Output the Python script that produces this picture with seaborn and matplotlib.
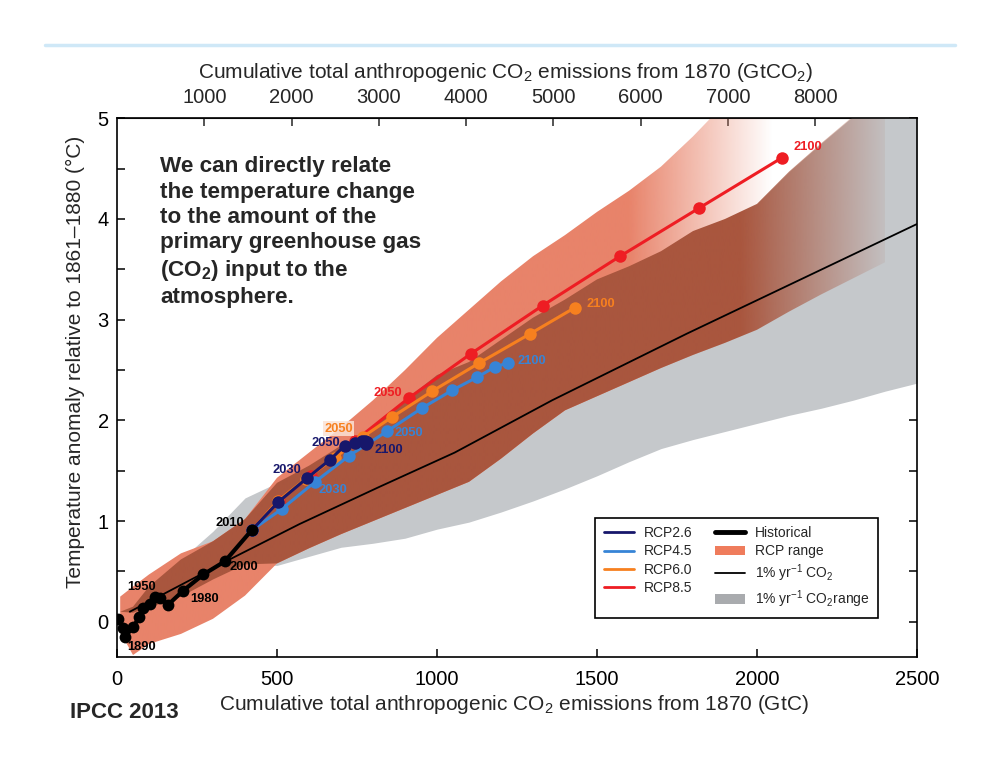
import numpy as np
import matplotlib
matplotlib.use("Agg")
import matplotlib.pyplot as plt
import seaborn as sns
from matplotlib.colors import to_rgb
from matplotlib.path import Path
from matplotlib.lines import Line2D
from matplotlib.patches import Patch

# ---- data (GtC, degC) ----
hist_x = [4, 20, 25, 51, 70, 82, 103, 119, 134, 160, 207, 270, 337, 421]
hist_y = [0.03, -0.06, -0.15, -0.05, 0.05, 0.14, 0.18, 0.25, 0.24, 0.17, 0.31, 0.47, 0.60, 0.91]

# decades 2010 ... 2100
rcp26_x = [421, 504, 595, 666, 712, 745, 765, 776, 780, 778]
rcp26_y = [0.91, 1.19, 1.43, 1.61, 1.75, 1.78, 1.80, 1.80, 1.79, 1.77]
rcp45_x = [421, 515, 619, 726, 843, 952, 1048, 1126, 1181, 1221]
rcp45_y = [0.91, 1.12, 1.39, 1.65, 1.89, 2.12, 2.30, 2.43, 2.53, 2.57]
rcp60_x = [421, 503, 590, 680, 770, 858, 985, 1132, 1291, 1431]
rcp60_y = [0.91, 1.20, 1.42, 1.63, 1.84, 2.03, 2.29, 2.57, 2.86, 3.12]
rcp85_x = [421, 505, 605, 745, 911, 1105, 1330, 1572, 1820, 2079]
rcp85_y = [0.91, 1.20, 1.45, 1.80, 2.22, 2.66, 3.14, 3.63, 4.11, 4.61]

onepct_x = [40, 340, 570, 820, 1055, 1360, 1780, 2500]
onepct_y = [0.10, 0.60, 0.97, 1.34, 1.68, 2.20, 2.86, 3.95]

nan = np.nan
band_x = [10, 50, 100, 200, 300, 400, 500, 600, 700, 800, 900, 1000, 1100, 1200,
          1300, 1400, 1500, 1600, 1700, 1800, 1900, 2000, 2100, 2200, 2300, 2400, 2500]
rcp_lo = [-0.10, -0.33, -0.22, -0.12, 0.03, 0.26, 0.58, 0.73, 0.87, 1.00, 1.13, 1.26, 1.39, 1.62,
          1.87, 2.10, 2.24, 2.38, 2.52, 2.65, 2.77, 2.90, 3.08, 3.25, 3.41, 3.57, nan]
rcp_hi = [0.25, 0.35, 0.47, 0.68, 0.80, 1.02, 1.43, 1.68, 1.93, 2.20, 2.50, 2.82, 3.10, 3.38,
          3.63, 3.84, 4.07, 4.28, 4.52, 4.82, 5.15, 5.50, 5.85, 6.20, 6.55, 6.90, nan]
gray_lo = [0.10, 0.09, 0.14, 0.25, 0.42, 0.57, 0.56, 0.65, 0.74, 0.78, 0.83, 0.92, 0.99, 1.09,
           1.20, 1.32, 1.45, 1.59, 1.72, 1.81, 1.89, 1.97, 2.05, 2.12, 2.20, 2.29, 2.37]
gray_hi = [0.10, 0.15, 0.35, 0.62, 0.90, 1.23, 1.38, 1.55, 1.75, 1.94, 2.20, 2.45, 2.58, 2.80,
           3.02, 3.20, 3.40, 3.53, 3.68, 3.88, 4.00, 4.15, 4.47, 4.75, 5.02, 5.30, 5.55]

top_ticks = [1000, 2000, 3000, 4000, 5000, 6000, 7000, 8000, 9000]
top_labels = ["1000", "2000", "3000", "4000", "5000", "6000", "7000", "8000", ""]

NAVY, BLUE, ORANGE, RED = "#17176b", "#3784d6", "#f7801f", "#ee1d23"
SALMON, DARK, GRAY = "#e8836a", "#a9563e", "#c5c8cb"

sns.set_style("ticks")
plt.rcParams["font.family"] = ["Liberation Sans", "DejaVu Sans"]
plt.rcParams["mathtext.fontset"] = "custom"
plt.rcParams["mathtext.rm"] = "Liberation Sans"
plt.rcParams["mathtext.bf"] = "Liberation Sans:bold"

fig = plt.figure(figsize=(10, 7.73), dpi=100)
ax = fig.add_axes([0.117, 0.150, 0.800, 0.697])

# ---- shaded ranges ----
bx = np.array(band_x)
rlo, rhi = np.array(rcp_lo), np.array(rcp_hi)
glo, ghi = np.array(gray_lo), np.array(gray_hi)

ax.fill_between(bx, glo, ghi, color=GRAY, lw=0, zorder=1)


def faded_band(lo, hi, color, fade0, fade1, z):
    valid = ~np.isnan(lo) & ~np.isnan(hi) & (hi > lo)
    band = ax.fill_between(bx, lo, hi, where=valid, interpolate=True,
                           facecolor="none", edgecolor="none")
    clip = Path.make_compound_path(*band.get_paths())
    xs = np.linspace(0, 2500, 501)
    rgba = np.zeros((1, xs.size, 4))
    rgba[..., :3] = to_rgb(color)
    rgba[0, :, 3] = np.clip((fade1 - xs) / (fade1 - fade0), 0, 1)
    im = ax.imshow(rgba, extent=(0, 2500, -1, 7), origin="lower", aspect="auto",
                   interpolation="bilinear", zorder=z)
    im.set_clip_path(clip, transform=ax.transData)


faded_band(rlo, rhi, SALMON, 1600, 2050, 1.2)
faded_band(np.maximum(rlo, glo), np.minimum(rhi, ghi), DARK, 1950, 2440, 1.4)

# ---- lines ----
sns.lineplot(x=onepct_x, y=onepct_y, color="black", lw=1.3, sort=False,
             estimator=None, ax=ax, zorder=2, legend=False)

series = {
    "RCP8.5": (rcp85_x, rcp85_y, RED, 3),
    "RCP6.0": (rcp60_x, rcp60_y, ORANGE, 4),
    "RCP4.5": (rcp45_x, rcp45_y, BLUE, 5),
    "RCP2.6": (rcp26_x, rcp26_y, NAVY, 6),
}
for name, (xs, ys, col, z) in series.items():
    sns.lineplot(x=xs, y=ys, color=col, lw=2.2, marker="o", markersize=9,
                 markeredgewidth=0, sort=False, estimator=None, ax=ax,
                 zorder=z, legend=False)

sns.lineplot(x=hist_x, y=hist_y, color="black", lw=3.0, marker="o", markersize=8.5,
             markeredgewidth=0, sort=False, estimator=None, ax=ax, zorder=7,
             legend=False)

# ---- year labels: (x list, y list, index, text, color, dx px, dy px, ha) ----
year_labels = [
    (rcp85_x, rcp85_y, 9, "2100", RED, 11, 11, "left"),
    (rcp85_x, rcp85_y, 4, "2050", RED, -6, 5, "right"),
    (rcp60_x, rcp60_y, 9, "2100", ORANGE, 12, 4, "left"),
    (rcp45_x, rcp45_y, 9, "2100", BLUE, 10, 2, "left"),
    (rcp45_x, rcp45_y, 4, "2050", BLUE, 8, -2, "left"),
    (rcp45_x, rcp45_y, 2, "2030", BLUE, 3, -8, "left"),
    (rcp26_x, rcp26_y, 9, "2100", NAVY, 9, -6, "left"),
    (rcp26_x, rcp26_y, 4, "2050", NAVY, -5, 3, "right"),
    (rcp26_x, rcp26_y, 2, "2030", NAVY, -6, 8, "right"),
    (hist_x, hist_y, 13, "2010", "black", -8, 7, "right"),
    (hist_x, hist_y, 12, "2000", "black", 5, -6, "left"),
    (hist_x, hist_y, 10, "1980", "black", 7, -8, "left"),
    (hist_x, hist_y, 5, "1950", "black", -16, 21, "left"),
    (hist_x, hist_y, 2, "1890", "black", 2, -10, "left"),
]
for xs, ys, i, txt, col, dx, dy, ha in year_labels:
    ax.annotate(txt, (xs[i], ys[i]), xytext=(dx * 0.72, dy * 0.72),
                textcoords="offset points", ha=ha, va="center", color=col,
                fontsize=9.3, fontweight="bold", zorder=9)
ax.annotate("2050", (rcp60_x[4], rcp60_y[4]), xytext=(-25 * 0.72, 8 * 0.72),
            textcoords="offset points", ha="center", va="center", color=ORANGE,
            fontsize=9.3, fontweight="bold", zorder=9,
            bbox=dict(boxstyle="square,pad=0.1", fc="#fbe3d6", ec="none", alpha=0.85))

# ---- axes ----
ax.set_xlim(0, 2500)
ax.set_ylim(-0.35, 5)
ax.set_xticks(range(0, 2501, 500))
ax.set_yticks(range(0, 6))
ax.set_yticks(np.arange(0.0, 5.01, 0.5), minor=True)
ax.tick_params(which="both", direction="in", length=6, width=1.1, right=True,
               top=False, labelsize=14.5, colors="black")
ax.tick_params(axis="x", pad=9)
ax.tick_params(axis="y", pad=6)
for s in ax.spines.values():
    s.set_linewidth(1.2)
    s.set_color("black")

secax = ax.secondary_xaxis("top", functions=(lambda v: v * 44 / 12, lambda v: v * 12 / 44))
secax.set_xticks(top_ticks, labels=top_labels)
secax.tick_params(direction="in", length=6, width=1.1, labelsize=14.5, pad=8)

ax.set_xlabel("Cumulative total anthropogenic CO$_2$ emissions from 1870 (GtC)", fontsize=15)
ax.xaxis.label.set_va("center")
ax.xaxis.set_label_coords(0.514, 1 - 705 / 773, transform=fig.transFigure)
secax.set_xlabel("Cumulative total anthropogenic CO$_2$ emissions from 1870 (GtCO$_2$)", fontsize=15)
secax.xaxis.label.set_va("center")
secax.xaxis.set_label_coords(0.505, 1 - 72 / 773, transform=fig.transFigure)
ax.set_ylabel("Temperature anomaly relative to 1861–1880 (°C)", fontsize=15)
ax.yaxis.label.set_va("center")
ax.yaxis.set_label_coords(0.075, 1 - 362 / 773, transform=fig.transFigure)

# ---- legend ----
handles = [
    Line2D([], [], color=NAVY, lw=2),
    Line2D([], [], color=BLUE, lw=2),
    Line2D([], [], color=ORANGE, lw=2),
    Line2D([], [], color=RED, lw=2),
    Line2D([], [], color="black", lw=3.5),
    Patch(facecolor="#ef7c5c", edgecolor="none"),
    Line2D([], [], color="black", lw=1.3),
    Patch(facecolor="#a9abae", edgecolor="none"),
]
names = ["RCP2.6", "RCP4.5", "RCP6.0", "RCP8.5", "Historical", "RCP range",
         "1% yr$^{-1}$ CO$_2$", "1% yr$^{-1}$ CO$_2$range"]
leg = ax.legend(handles, names, ncol=2, loc="lower right", bbox_to_anchor=(0.96, 0.059),
                prop={"size": 10}, frameon=True, fancybox=False,
                edgecolor="black", framealpha=1, handlelength=2.2, handletextpad=0.7,
                columnspacing=1.6, labelspacing=0.3, borderpad=0.6)
leg.get_frame().set_linewidth(1.2)
leg.set_zorder(10)

# ---- texts ----
ax.text((160 - 117) / 800, (657 - 156) / 539,
        "We can directly relate\nthe temperature change\nto the amount of the\n"
        "primary greenhouse gas\n(CO$_\\mathbf{2}$) input to the\natmosphere.",
        transform=ax.transAxes, ha="left", va="top", fontsize=16.2, fontweight="bold",
        linespacing=1.27, zorder=10)
fig.text(0.070, 1 - 712 / 773, "IPCC 2013", ha="left", va="center", fontsize=16,
         fontweight="bold")
fig.add_artist(Line2D([0.045, 0.955], [1 - 45 / 773] * 2, transform=fig.transFigure,
                      color="#cfe8f7", lw=2.5))

fig.savefig("out.png", dpi=100)
